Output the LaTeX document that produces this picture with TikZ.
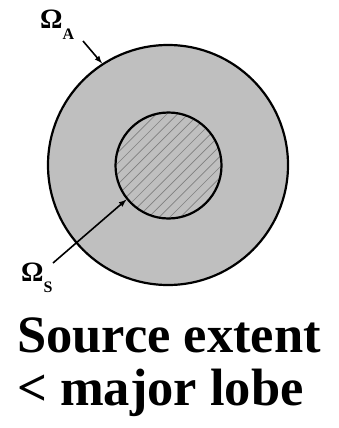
\documentclass[tikz,border=0pt]{standalone}
\usepackage{fontspec}
\setmainfont{Liberation Serif}
\usetikzlibrary{arrows}
\definecolor{lobegray}{gray}{0.75}
\definecolor{hatchgray}{gray}{0.5}
\begin{document}
\begin{tikzpicture}[x=1pt, y=-1pt, >=latex]
    \tikzstyle{disc}=[circle, draw, line width=2.2pt, fill=lobegray, inner sep=0pt]
    \tikzstyle{omega}=[anchor=base west, inner sep=0pt, font=\fontsize{28}{28}\selectfont\bfseries]
    \useasboundingbox (0,0) rectangle (339,428);
    \node[disc, minimum size=240pt] (lobe) at (168,165) {};
    \node[disc, minimum size=106pt, path picture={
        \foreach \k in {-8,...,8}
          \draw[hatchgray, line width=0.7pt]
            ([shift={(\k*10.6-80,80)}]path picture bounding box.center) --
            ([shift={(\k*10.6+80,-80)}]path picture bounding box.center);
      }] (src) at (168.5,165.5) {};
    \node[omega] (omA) at (40,29) {Ω\raisebox{-11pt}{\fontsize{16}{16}\selectfont A}};
    \node[omega] (omS) at (21,281) {Ω\raisebox{-11pt}{\fontsize{16}{16}\selectfont S}};
    \coordinate (a0) at (83,41);
    \coordinate (s0) at (53,263);
    \draw[->, line width=1.6pt] (a0) -- (lobe.123);
    \draw[->, line width=1.6pt] (s0) -- (src.219);
    \node[anchor=base west, inner sep=0pt, font=\fontsize{52.5}{53}\selectfont\bfseries] (line1) at (17,352) {Source extent};
    \node[anchor=base west, inner sep=0pt, font=\fontsize{52.5}{53}\selectfont\bfseries] (line2) at (17,405) {< major lobe};
  \end{tikzpicture}
\end{document}
